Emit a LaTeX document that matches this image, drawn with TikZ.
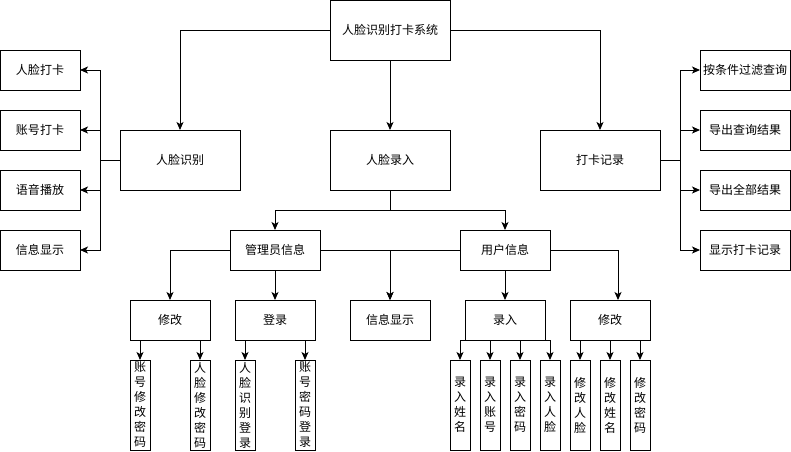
\documentclass[tikz,border=0pt]{standalone}
\usepackage{fontspec}
\newfontfamily\cjk{Noto Sans CJK SC}
\usetikzlibrary{arrows.meta}
\begin{document}
\begin{tikzpicture}[x=1pt,y=-1pt,
  box/.style={draw,line width=1pt,inner sep=0pt,outer sep=0pt,font=\cjk\fontsize{12}{15}\selectfont,align=center},
  bx/.style 2 args={box,minimum width=#1pt,minimum height=#2pt},
  vbox/.style={box,minimum width=20pt,minimum height=90pt},
  arr/.style={line width=1pt,-{Stealth[length=8pt,width=7pt,inset=2pt]}},
  ln/.style={line width=1pt}]
\useasboundingbox (0,0) rectangle (791,451);
\node[bx={120}{60}] (top) at (390,30) {人脸识别打卡系统};
\node[bx={120}{60}] (rl) at (180,160) {人脸识别};
\node[bx={120}{60}] (lr) at (390,160) {人脸录入};
\node[bx={120}{60}] (dk) at (600,160) {打卡记录};
\node[bx={80}{40}] (l1) at (40,70) {人脸打卡};
\node[bx={80}{40}] (l2) at (40,130) {账号打卡};
\node[bx={80}{40}] (l3) at (40,190) {语音播放};
\node[bx={80}{40}] (l4) at (40,250) {信息显示};
\node[bx={90}{40}] (r1) at (745,70) {按条件过滤查询};
\node[bx={90}{40}] (r2) at (745,130) {导出查询结果};
\node[bx={90}{40}] (r3) at (745,190) {导出全部结果};
\node[bx={90}{40}] (r4) at (745,250) {显示打卡记录};
\node[bx={90}{40}] (adm) at (275,250) {管理员信息};
\node[bx={90}{40}] (usr) at (505,250) {用户信息};
\node[bx={80}{40}] (xa) at (170,320) {修改};
\node[bx={80}{40}] (dl) at (275,320) {登录};
\node[bx={80}{40}] (info) at (390,320) {信息显示};
\node[bx={80}{40}] (lu) at (505,320) {录入};
\node[bx={80}{40}] (xu) at (610,320) {修改};
\node[vbox] (v1) at (140,405) {账\\号\\修\\改\\密\\码};
\node[vbox] (v2) at (200,405) {人\\脸\\修\\改\\密\\码};
\node[vbox] (v3) at (245,405) {人\\脸\\识\\别\\登\\录};
\node[vbox] (v4) at (305,405) {账\\号\\密\\码\\登\\录};
\node[vbox] (v5) at (460,405) {录\\入\\姓\\名};
\node[vbox] (v6) at (490,405) {录\\入\\账\\号};
\node[vbox] (v7) at (520,405) {录\\入\\密\\码};
\node[vbox] (v8) at (550,405) {录\\入\\人\\脸};
\node[vbox] (v9) at (580,405) {修\\改\\人\\脸};
\node[vbox] (v10) at (610,405) {修\\改\\姓\\名};
\node[vbox] (v11) at (640,405) {修\\改\\密\\码};
% top level
\draw[arr] (top.west) -| (rl.north);
\draw[arr] (top.south) -- (lr.north);
\draw[arr] (top.east) -| (dk.north);
% left
\coordinate (lt) at (100,160);
\draw[ln] (rl.west) -- (lt);
\foreach \b in {l1,l2,l3,l4} \draw[arr] (lt) |- (\b.east);
% right
\coordinate (rt) at (680,160);
\draw[ln] (dk.east) -- (rt);
\foreach \b in {r1,r2,r3,r4} \draw[arr] (rt) |- (\b.west);
% middle
\coordinate (mj) at (390,210);
\draw[ln] (lr.south) -- (mj);
\draw[arr] (mj) -| (adm.north);
\draw[arr] (mj) -| (usr.north);
\draw[arr] (adm.west) -| (xa.north);
\draw[arr] (adm.south) -- (dl.north);
\draw[arr] (adm.east) -| (info.north);
\draw[arr] (usr.west) -| (info.north);
\draw[arr] (usr.south) -- (lu.north);
\coordinate (xuin) at (618,300);
\draw[arr] (usr.east) -| (xuin);
% leaves
\draw[arr] (v1.north |- xa.south) -- (v1.north);
\draw[arr] (v2.north |- xa.south) -- (v2.north);
\draw[arr] (v3.north |- dl.south) -- (v3.north);
\draw[arr] (v4.north |- dl.south) -- (v4.north);
\draw[arr] (lu.south west) -| (v5.north);
\draw[arr] (v6.north |- lu.south) -- (v6.north);
\draw[arr] (v7.north |- lu.south) -- (v7.north);
\draw[arr] (lu.south east) -| (v8.north);
\draw[arr] (v9.north |- xu.south) -- (v9.north);
\draw[arr] (v10.north |- xu.south) -- (v10.north);
\draw[arr] (v11.north |- xu.south) -- (v11.north);
\end{tikzpicture}
\end{document}
